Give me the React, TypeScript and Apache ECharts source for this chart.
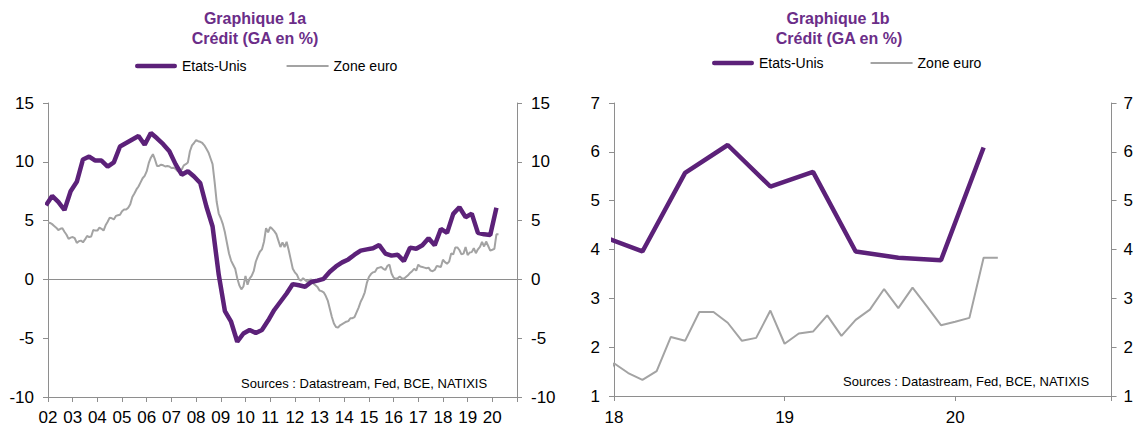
import React, { useEffect, useRef } from "react";
import * as echarts from "echarts";

// US credit growth (quarterly, end of quarter, starting Dec 2001)
const usStart = 2001 + 11 / 12;
const usValues = [
  6.3,
  7.1, 6.6, 5.9, 7.5,
  8.3, 10.2, 10.45, 10.1,
  10.1, 9.6, 9.95, 11.3,
  11.6, 11.9, 12.2, 11.45,
  12.45, 12.0, 11.5, 10.9,
  9.8, 8.9, 9.2, 8.75,
  8.2, 6.2, 4.5, 0.4,
  -2.7, -3.6, -5.3, -4.6,
  -4.3, -4.55, -4.3, -3.5,
  -2.6, -1.9, -1.2, -0.4,
  -0.5, -0.62, -0.22, -0.1,
  0.05, 0.65, 1.1, 1.45,
  1.7, 2.1, 2.45, 2.55,
  2.65, 2.92, 2.2, 2.02,
  2.1, 1.55, 2.7, 2.6,
  2.9, 3.5, 2.9, 4.29,
  3.96, 5.57, 6.14, 5.29,
  5.59, 3.96, 3.83, 3.78,
  6.09,
];

// Euro area credit growth (monthly, starting Jan 2002)
const euStart = 2002;
const euValues = [
  4.84, 4.8, 4.7, 4.55, 4.4, 4.2, 4.3, 4.35, 4.05, 3.8, 3.45, 3.55,
  3.6, 3.5, 3.1, 3.25, 3.3, 3.15, 3.4, 3.7, 3.6, 3.65, 4.2, 4.15,
  4.15, 4.4, 4.3, 4.15, 4.6, 4.9, 5.25, 5.2, 5.1, 5.4, 5.45, 5.5,
  5.8, 5.95, 5.95, 6.1, 6.4, 7.0, 7.3, 7.65, 7.9, 8.25, 8.6, 8.8,
  9.2, 9.9, 10.35, 10.65, 10.2, 9.65, 9.65, 9.75, 9.7, 9.6, 9.65, 9.6,
  9.47, 9.5, 9.4, 9.2, 9.25, 9.35, 9.7, 9.8, 9.95, 10.9, 11.4, 11.6,
  11.85, 11.75, 11.7, 11.6, 11.4, 11.1, 10.8, 10.3, 9.8, 8.3, 6.6, 5.6,
  5.2, 4.7, 4.0, 3.1, 2.2, 1.6, 1.25, 0.9, 0.1, -0.5, -0.85, -0.6,
  0.3, -0.45, 0.06, 0.3, 0.7, 1.5, 1.95, 2.35, 2.55, 3.2, 4.35, 4.0,
  4.45, 4.3, 4.1, 3.85, 3.3, 2.75, 3.15, 2.75, 3.2, 2.5, 1.7, 0.9,
  0.6, 0.4, 0.0, -0.1, 0.1, -0.05, -0.2, -0.05, 0.0, -0.35, -0.5, -0.65,
  -0.95, -1.0, -1.1, -1.4, -1.8, -2.5, -3.2, -3.75, -4.05, -4.1, -3.9, -3.8,
  -3.7, -3.6, -3.55, -3.3, -3.3, -3.2, -2.8, -2.4, -1.9, -1.55, -1.1, -0.3,
  0.2, 0.45, 0.6, 0.65, 0.95, 1.0, 1.05, 0.9, 0.8, 1.15, 1.25, 0.5,
  0.15, 0.05, 0.1, 0.25, 0.1, 0.05, 0.2, 0.35, 0.55, 0.7, 0.9, 0.75,
  1.25, 1.1, 1.05, 1.0, 0.95, 1.0, 0.75, 0.7, 0.8, 1.15, 1.1, 1.05,
  1.67, 1.47, 1.33, 1.51, 2.21, 2.13, 2.72, 2.72, 2.5, 2.13, 2.19, 2.75,
  2.07, 2.28, 2.32, 2.65, 2.23, 2.56, 2.77, 3.19, 2.8, 3.22, 2.84, 2.45,
  2.52, 2.6, 3.83, 3.83,
];

const seriesNames = ["Etats-Unis", "Zone euro"];
const titles = ["Graphique 1a", "Graphique 1b"];
const subtitle = "Crédit (GA en %)";
const sourceText = "Sources : Datastream, Fed, BCE, NATIXIS";

const FONT = '"Liberation Sans", Arial, sans-serif';
const PURPLE = "#5c2179";
const TITLE_PURPLE = "#6b2d88";
const GREY = "#a3a3a3";
const AXIS = "#8e8e8e";

export default function App() {
  const ref = useRef<HTMLDivElement>(null);
  useEffect(() => {
    if (!ref.current) return;
    const chart = echarts.init(ref.current, null, { renderer: "svg" });
    const usData = usValues.map((v, i) => [usStart + i * 0.25, v]);
    const euData = euValues.map((v, i) => [euStart + i / 12, v]);

    const yearFmt = (v: number) =>
      Math.abs(v - Math.round(v)) > 1e-6 ? "" : String(Math.round(v) % 100).padStart(2, "0");

    const axisLineStyle = { show: true, lineStyle: { color: AXIS, width: 1 } };
    const tick = { show: true, inside: false, length: 5, lineStyle: { color: AXIS } };
    const lbl = { color: "#000", fontSize: 17, fontFamily: FONT };

    const xAxisBase = {
      type: "value" as const,
      axisLine: { ...axisLineStyle, onZero: false },
      axisTick: tick,
      splitLine: { show: false },
    };

    const legendData = [
      { name: seriesNames[0], icon: "path://M2.25 0H39.75A2.25 2.25 0 0 1 39.75 4.5H2.25A2.25 2.25 0 0 1 2.25 0Z", itemStyle: { color: PURPLE } },
      { name: seriesNames[1], icon: "path://M0 0H42V2H0Z", itemStyle: { color: GREY } },
    ];

    const option: any = {
      animation: false,
      grid: [
        { left: 48, right: 1136 - 517, top: 103, bottom: 27 },
        { left: 614, right: 1136 - 1115, top: 103, bottom: 27 },
      ],
      xAxis: [
        {
          ...xAxisBase,
          gridIndex: 0,
          min: 2002,
          max: 2021,
          interval: 1,
          axisLabel: { ...lbl, margin: 12, formatter: (v: number) => (v >= 2021 ? "" : yearFmt(v)) },
        },
        {
          ...xAxisBase,
          gridIndex: 1,
          min: 2018,
          max: 2020 + 11 / 12,
          interval: 1,
          axisLabel: { ...lbl, margin: 13, formatter: yearFmt },
        },
      ],
      yAxis: [
        {
          type: "value", gridIndex: 0, position: "left", min: -10, max: 15, interval: 5,
          axisLine: axisLineStyle, axisTick: tick, splitLine: { show: false },
          axisLabel: { ...lbl, margin: 14 },
        },
        {
          type: "value", gridIndex: 0, position: "right", min: -10, max: 15, interval: 5,
          axisLine: axisLineStyle, axisTick: tick, splitLine: { show: false },
          axisLabel: { ...lbl, margin: 14 },
        },
        {
          type: "value", gridIndex: 1, position: "left", min: 1, max: 7, interval: 1,
          axisLine: axisLineStyle, axisTick: tick, splitLine: { show: false },
          axisLabel: { ...lbl, margin: 14 },
        },
        {
          type: "value", gridIndex: 1, position: "right", min: 1, max: 7, interval: 1,
          axisLine: axisLineStyle, axisTick: tick, splitLine: { show: false },
          axisLabel: { ...lbl, margin: 12 },
        },
      ],
      legend: [
        {
          data: legendData, left: 130, top: 54, itemWidth: 42, itemHeight: 14, itemGap: 40,
          textStyle: { fontSize: 14, fontFamily: FONT, color: "#000" },
        },
        {
          data: legendData, left: 707, top: 51, itemWidth: 42, itemHeight: 14, itemGap: 47,
          textStyle: { fontSize: 14, fontFamily: FONT, color: "#000" },
        },
      ],
      series: [
        {
          name: seriesNames[1], type: "line", xAxisIndex: 0, yAxisIndex: 0, data: euData,
          showSymbol: false, symbol: "none", z: 3,
          lineStyle: { color: GREY, width: 2 }, itemStyle: { color: GREY },
          markLine: {
            silent: true, symbol: "none", label: { show: false },
            lineStyle: { color: AXIS, width: 1, type: "solid" },
            data: [{ yAxis: 0 }],
            z: 1,
          },
        },
        {
          name: seriesNames[0], type: "line", xAxisIndex: 0, yAxisIndex: 0, data: usData,
          showSymbol: false, symbol: "none", z: 4,
          lineStyle: { color: PURPLE, width: 4.5 }, itemStyle: { color: PURPLE },
        },
        {
          name: seriesNames[1], type: "line", xAxisIndex: 1, yAxisIndex: 2, data: euData,
          showSymbol: false, symbol: "none", z: 3,
          lineStyle: { color: GREY, width: 2 }, itemStyle: { color: GREY },
        },
        {
          name: seriesNames[0], type: "line", xAxisIndex: 1, yAxisIndex: 2, data: usData,
          showSymbol: false, symbol: "none", z: 4,
          lineStyle: { color: PURPLE, width: 4.5 }, itemStyle: { color: PURPLE },
        },
      ],
      graphic: [
        { type: "text", x: 255, y: 18, style: { text: titles[0], textAlign: "center", textVerticalAlign: "middle", font: `bold 16px ${FONT}`, fill: TITLE_PURPLE } },
        { type: "text", x: 255, y: 38, style: { text: subtitle, textAlign: "center", textVerticalAlign: "middle", font: `bold 16px ${FONT}`, fill: TITLE_PURPLE } },
        { type: "text", x: 838, y: 18, style: { text: titles[1], textAlign: "center", textVerticalAlign: "middle", font: `bold 16px ${FONT}`, fill: TITLE_PURPLE } },
        { type: "text", x: 839, y: 38, style: { text: subtitle, textAlign: "center", textVerticalAlign: "middle", font: `bold 16px ${FONT}`, fill: TITLE_PURPLE } },
        { type: "text", x: 241, y: 383, style: { text: sourceText, textAlign: "left", textVerticalAlign: "middle", font: `13px ${FONT}`, fill: "#000" } },
        { type: "text", x: 843, y: 381, style: { text: sourceText, textAlign: "left", textVerticalAlign: "middle", font: `13px ${FONT}`, fill: "#000" } },
      ],
    };
    chart.setOption(option);
    return () => chart.dispose();
  }, []);
  return (
    <div
      ref={ref}
      style={{ position: "fixed", left: 0, top: 0, width: 1136, height: 426, background: "#fff" }}
    />
  );
}
